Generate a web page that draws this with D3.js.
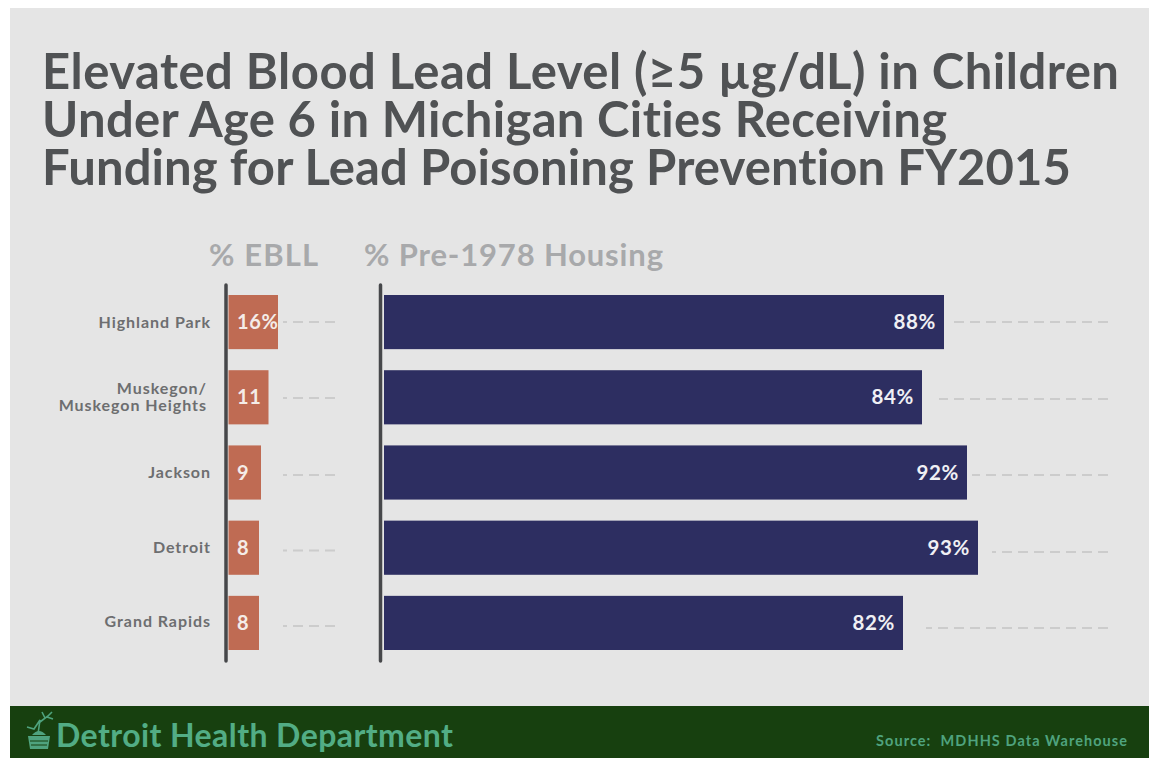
<!DOCTYPE html>
<html><head><meta charset="utf-8">
<script src="https://cdn.jsdelivr.net/npm/d3@7"></script>
<style>html,body{margin:0;padding:0;background:#fff}svg{display:block}text{font-family:Lato,"Noto Sans",sans-serif;font-variant-ligatures:none}</style>
</head><body><svg id="c" width="1155" height="758"></svg>
<script>
const cities = ["Highland Park","Muskegon/\nMuskegon Heights","Jackson","Detroit","Grand Rapids"];
const ebll = [16,11,9,8,8];
const ebllLabels = ["16%","11","9","8","8"];
const housing = [88,84,92,93,82];
const titleLines = ["Elevated Blood Lead Level (≥5 µg/dL) in Children","Under Age 6 in Michigan Cities Receiving","Funding for Lead Poisoning Prevention FY2015"];

const svg = d3.select("#c");
svg.append("rect").attr("x",10).attr("y",8).attr("width",1139).attr("height",698).attr("fill","#e5e5e5");
svg.append("rect").attr("x",10).attr("y",706).attr("width",1139).attr("height",52).attr("fill","#17400f");

const titleWidths=[1077,905,1029];
svg.append("g").selectAll("text").data(titleLines).join("text")
  .attr("x",42).attr("y",(d,i)=>89+i*48)
  .attr("font-size",49).attr("font-weight",700).attr("fill","#505254")
  .attr("textLength",(d,i)=>titleWidths[i]).attr("lengthAdjust","spacing").text(d=>d);

const y = d3.scaleBand().domain(cities).range([295,650]).paddingInner(0.28).paddingOuter(0);
const xL = d3.scaleLinear().domain([0,8,9,11,16]).range([228.5,259,261,268.5,278]);
const xR = d3.scaleLinear().domain([0,82,84,88,92,93]).range([384,903,922,944,967,978]);

svg.append("text").attr("x",209).attr("y",266).attr("font-size",31).attr("font-weight",700).attr("fill","#a8a9ab").attr("textLength",109).text("% EBLL");
svg.append("text").attr("x",364).attr("y",266).attr("font-size",31).attr("font-weight",700).attr("fill","#a8a9ab").attr("textLength",299).text("% Pre-1978 Housing");

// leader dashes, drawn from their common right end back towards the bars
const dash = (x1,x2,yy)=>svg.append("line").attr("x1",x2).attr("x2",x1).attr("y1",yy).attr("y2",yy)
  .attr("stroke","#cccccc").attr("stroke-width",2).attr("stroke-dasharray","10 6");
const rightGap=[4,17,5,14,23];
const leftY=[322,398,475,550.5,626], rightY=[322,399,475,552,628];
cities.forEach((c,i)=>{
  dash(283,335,leftY[i]);
  dash(xR(housing[i])+rightGap[i],1108,rightY[i]);
});

// bars
svg.append("g").selectAll("rect").data(cities).join("rect")
  .attr("x",xL(0)).attr("y",d=>y(d)).attr("height",y.bandwidth())
  .attr("width",(d,i)=>xL(ebll[i])-xL(0)).attr("fill","#bf6b53");
svg.append("g").selectAll("rect").data(cities).join("rect")
  .attr("x",xR(0)).attr("y",d=>y(d)).attr("height",y.bandwidth())
  .attr("width",(d,i)=>xR(housing[i])-xR(0)).attr("fill","#2d2e61");

// axis lines
[226,380.5].forEach(x=>svg.append("line").attr("x1",x).attr("x2",x).attr("y1",285).attr("y2",661)
  .attr("stroke","#46474a").attr("stroke-width",3.5).attr("stroke-linecap","round"));

// value labels
svg.append("g").selectAll("text").data(cities).join("text")
  .attr("x",237).attr("y",d=>y(d)+y.bandwidth()/2+7)
  .attr("font-size",20).attr("font-weight",700).attr("letter-spacing",0.6).attr("fill","#f4ece8").text((d,i)=>ebllLabels[i]);
svg.append("g").selectAll("text").data(cities).join("text")
  .attr("x",(d,i)=>xR(housing[i])-8).attr("y",d=>y(d)+y.bandwidth()/2+7)
  .attr("text-anchor","end").attr("font-size",20.5).attr("font-weight",700).attr("letter-spacing",0.6).attr("fill","#f0f0f4").text((d,i)=>housing[i]+"%");

// category labels
const labelY=[328,[394,411],478,553,627];
cities.forEach((c,i)=>{
  const parts=c.split("\n");
  parts.forEach((p,j)=>svg.append("text").attr("x",parts.length>1?207:211)
    .attr("y",parts.length>1? labelY[i][j] : labelY[i])
    .attr("text-anchor","end").attr("font-size",16).attr("font-weight",700).attr("letter-spacing",0.95).attr("fill","#6d6e70").text(p));
});

// footer
svg.append("text").attr("x",56).attr("y",747).attr("font-size",32).attr("font-weight",700).attr("fill","#52ad85").attr("textLength",397).text("Detroit Health Department");
svg.append("text").attr("x",876).attr("y",746).attr("font-size",14.5).attr("font-weight",700).attr("fill","#4fa37e").attr("textLength",251).attr("xml:space","preserve").text("Source:  MDHHS Data Warehouse");
// logo
const logo=svg.append("g").attr("fill","#4fa37e").attr("stroke","none");
logo.append("path").attr("d","M28 736 L50 736 L48 749 L30 749 Z");
logo.append("path").attr("d","M32 735 Q39 727 46 735 Z");
logo.append("path").attr("d","M30 741 H48 M31 745 H47").attr("stroke","#17400f").attr("stroke-width",1);
logo.append("path").attr("d","M27 727 L34 729 L40 720 L38 734 M40 722 L48 716 L52 712 M45 718 L42 712 M47 717 L53 719").attr("fill","none").attr("stroke","#4fa37e").attr("stroke-width",1.6);
</script></body></html>
